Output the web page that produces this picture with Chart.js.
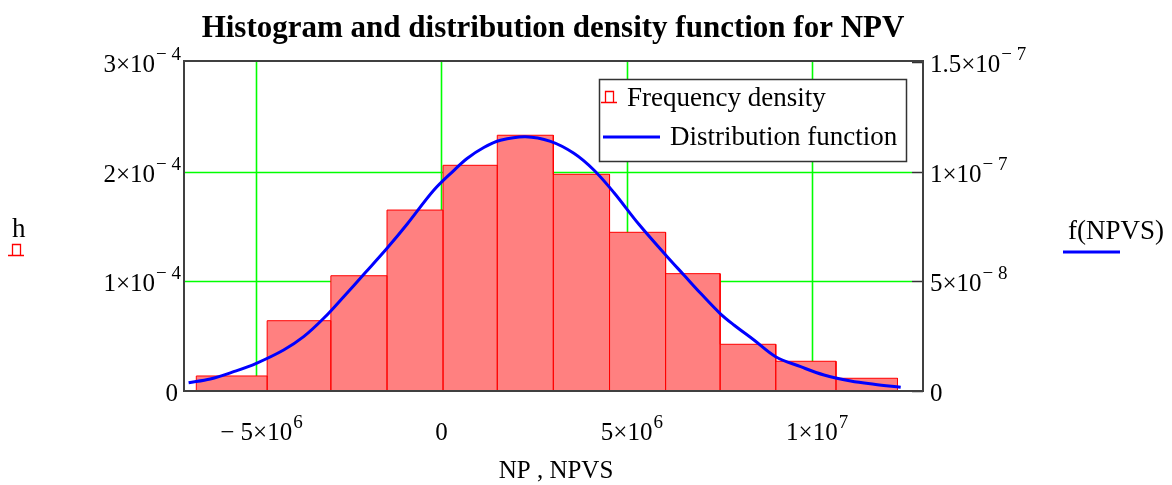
<!DOCTYPE html>
<html><head><meta charset="utf-8">
<script src="https://cdn.jsdelivr.net/npm/chart.js@4"></script>
<style>html,body{margin:0;padding:0;background:#fff;} canvas{display:block;}</style>
</head><body>
<canvas id="c" width="1172" height="485"></canvas>
<script>
// ---- data ----
const binEdges = [-6.618e6, -4.705e6, -2.985e6, -1.469e6, 0.043e6, 1.507e6, 3.020e6, 4.538e6, 6.051e6, 7.523e6, 9.025e6, 10.651e6, 12.312e6];
const freqDensity = [1.37e-5, 6.41e-5, 1.051e-4, 1.650e-4, 2.058e-4, 2.332e-4, 1.976e-4, 1.447e-4, 1.070e-4, 4.26e-5, 2.71e-5, 1.16e-5];
const curveX = [-6.826e6, -6.240e6, -5.610e6, -4.997e6, -4.260e6, -3.720e6, -3.179e6, -2.639e6, -2.053e6, -1.469e6, -0.929e6, -0.208e6, 0.332e6, 0.692e6, 1.143e6, 1.594e6, 2.269e6, 2.944e6, 3.574e6, 4.114e6, 4.654e6, 5.330e6, 6.094e6, 6.545e6, 6.996e6, 7.517e6, 7.896e6, 8.436e6, 9.022e6, 9.697e6, 10.327e6, 11.048e6, 11.677e6, 12.398e6];
const curveY = [0.378e-8, 0.547e-8, 0.880e-8, 1.263e-8, 1.869e-8, 2.476e-8, 3.314e-8, 4.300e-8, 5.400e-8, 6.506e-8, 7.600e-8, 9.150e-8, 10.050e-8, 10.600e-8, 11.100e-8, 11.430e-8, 11.594e-8, 11.380e-8, 10.837e-8, 10.075e-8, 9.050e-8, 7.600e-8, 6.123e-8, 5.288e-8, 4.454e-8, 3.542e-8, 3.009e-8, 2.325e-8, 1.564e-8, 1.108e-8, 0.729e-8, 0.456e-8, 0.305e-8, 0.169e-8];
const xTicks = [-5e6, 0, 5e6, 1e7];
const xTickLabels = [["\u2212 5\u00d710", "6"], ["0", ""], ["5\u00d710", "6"], ["1\u00d710", "7"]];
const leftTicks = [0, 1e-4, 2e-4, 3e-4];
const leftTickLabels = [["0", ""], ["1\u00d710", "\u2212 4"], ["2\u00d710", "\u2212 4"], ["3\u00d710", "\u2212 4"]];
const rightTicks = [0, 5e-8, 1e-7, 1.5e-7];
const rightTickLabels = [["0", ""], ["5\u00d710", "\u2212 8"], ["1\u00d710", "\u2212 7"], ["1.5\u00d710", "\u2212 7"]];
const titleText = "Histogram and distribution density function for NPV";
const xTitle = "NP , NPVS";
const leftTitle = "h";
const rightTitle = "f(NPVS)";
const legendLabels = ["Frequency density", "Distribution function"];

// build histogram outline points from edges/heights
const histPoints = [];
for (let i = 0; i < freqDensity.length; i++) {
  histPoints.push({x: binEdges[i], y: 0});
  histPoints.push({x: binEdges[i], y: freqDensity[i]});
  histPoints.push({x: binEdges[i + 1], y: freqDensity[i]});
  histPoints.push({x: binEdges[i + 1], y: 0});
}
const curvePoints = curveX.map((x, i) => ({x: x, y: curveY[i]}));

const SERIF = "'Liberation Serif', 'Times New Roman', serif";
const MAIN = "25px " + SERIF;
const SUP = "19px " + SERIF;

function supLabel(ctx, main, sup, x, y, align) {
  ctx.font = MAIN;
  const wm = ctx.measureText(main).width;
  ctx.font = SUP;
  const ws = sup ? ctx.measureText(sup).width : 0;
  let x0;
  if (align === 'right') x0 = x - wm - ws;
  else if (align === 'left') x0 = x;
  else x0 = x - wm / 2;
  ctx.textAlign = 'left';
  ctx.textBaseline = 'alphabetic';
  ctx.font = MAIN;
  ctx.fillText(main, x0, y);
  if (sup) { ctx.font = SUP; ctx.fillText(sup, x0 + wm + 1, y - 12); }
}

function histIcon(ctx, x, y) {
  ctx.save();
  ctx.strokeStyle = '#ff0000';
  ctx.lineWidth = 1.3;
  ctx.beginPath();
  ctx.moveTo(x, y + 0.5); ctx.lineTo(x + 16, y + 0.5);
  ctx.moveTo(x + 4.5, y); ctx.lineTo(x + 4.5, y - 10.5); ctx.lineTo(x + 12.5, y - 10.5); ctx.lineTo(x + 12.5, y);
  ctx.stroke();
  ctx.restore();
}

const gridPlugin = {
  id: 'greenGrid',
  beforeDatasetsDraw(chart) {
    const ctx = chart.ctx;
    const a = chart.chartArea;
    const sx = chart.scales.x, sy = chart.scales.y;
    ctx.save();
    ctx.strokeStyle = '#00ff00';
    ctx.lineWidth = 1.6;
    xTicks.forEach(v => {
      const px = Math.round(sx.getPixelForValue(v)) + 0.5;
      ctx.beginPath(); ctx.moveTo(px, a.top); ctx.lineTo(px, a.bottom); ctx.stroke();
    });
    leftTicks.forEach(v => {
      if (v === leftTicks[0] || v === leftTicks[leftTicks.length - 1]) return;
      const py = Math.round(sy.getPixelForValue(v)) + 0.5;
      ctx.beginPath(); ctx.moveTo(a.left, py); ctx.lineTo(a.right - 11, py); ctx.stroke();
    });
    ctx.restore();
  }
};

const decor = {
  id: 'decor',
  afterDraw(chart) {
    const ctx = chart.ctx;
    const a = chart.chartArea;
    const sx = chart.scales.x, sy = chart.scales.y, sy2 = chart.scales.y2;
    ctx.save();
    // right inward ticks
    ctx.strokeStyle = '#333';
    ctx.lineWidth = 1.5;
    rightTicks.forEach(v => {
      const py = Math.round(sy2.getPixelForValue(v)) + 0.5;
      ctx.beginPath(); ctx.moveTo(a.right - 11, py); ctx.lineTo(a.right, py); ctx.stroke();
    });
    // box
    ctx.strokeStyle = '#404040';
    ctx.lineWidth = 2;
    ctx.strokeRect(a.left, a.top - 1, a.right - a.left, a.bottom - a.top + 1);
    // legend
    ctx.fillStyle = '#fff';
    ctx.fillRect(599, 79, 308, 83);
    ctx.strokeStyle = '#333';
    ctx.lineWidth = 1.5;
    ctx.strokeRect(599.5, 79.5, 307, 82);
    histIcon(ctx, 601, 102);
    ctx.strokeStyle = '#0000ff';
    ctx.lineWidth = 3;
    ctx.beginPath(); ctx.moveTo(603, 137); ctx.lineTo(660, 137); ctx.stroke();
    ctx.fillStyle = '#000';
    ctx.font = "27px " + SERIF;
    ctx.textAlign = 'left'; ctx.textBaseline = 'alphabetic';
    ctx.fillText(legendLabels[0], 627, 106);
    ctx.fillText(legendLabels[1], 670, 145);
    // title
    ctx.font = "bold 31px " + SERIF;
    ctx.textAlign = 'center';
    ctx.fillText(titleText, 553, 37);
    // tick labels
    ctx.fillStyle = '#000';
    xTicks.forEach((v, i) => {
      supLabel(ctx, xTickLabels[i][0], xTickLabels[i][1], sx.getPixelForValue(v), 440, 'center');
    });
    leftTicks.forEach((v, i) => {
      const py = sy.getPixelForValue(v);
      supLabel(ctx, leftTickLabels[i][0], leftTickLabels[i][1], leftTickLabels[i][1] ? 180 : 178, py + 10, 'right');
    });
    rightTicks.forEach((v, i) => {
      const py = sy2.getPixelForValue(v);
      supLabel(ctx, rightTickLabels[i][0], rightTickLabels[i][1], 930, py + 10, 'left');
    });
    // axis titles
    ctx.font = MAIN;
    ctx.textAlign = 'center';
    ctx.fillText(xTitle, 556, 478);
    ctx.font = "27px " + SERIF;
    ctx.textAlign = 'left';
    ctx.fillText(leftTitle, 12, 237);
    histIcon(ctx, 8, 255);
    ctx.fillText(rightTitle, 1068, 239);
    ctx.strokeStyle = '#0000ff';
    ctx.lineWidth = 3;
    ctx.beginPath(); ctx.moveTo(1063, 252); ctx.lineTo(1120, 252); ctx.stroke();
    ctx.restore();
  }
};

new Chart(document.getElementById('c').getContext('2d'), {
  type: 'scatter',
  data: {
    datasets: [
      {label: legendLabels[1], data: curvePoints, showLine: true, borderColor: '#0000ff', borderWidth: 3,
       pointRadius: 0, yAxisID: 'y2', order: 0, fill: false, tension: 0.35},
      {label: legendLabels[0], data: histPoints, showLine: true, borderColor: '#ff0000', borderWidth: 1,
       backgroundColor: '#ff8080', fill: 'origin', pointRadius: 0, yAxisID: 'y', order: 1, tension: 0}
    ]
  },
  options: {
    responsive: false, animation: false, devicePixelRatio: 1,
    layout: {padding: {left: 184, right: 249, top: 62, bottom: 94}},
    plugins: {legend: {display: false}, title: {display: false}, tooltip: {enabled: false}},
    scales: {
      x: {type: 'linear', min: -6.95e6, max: 1.3e7,
          afterBuildTicks: s => { s.ticks = xTicks.map(v => ({value: v})); },
          ticks: {display: false}, grid: {display: false, drawTicks: false}, border: {display: false}},
      y: {type: 'linear', position: 'left', min: 0, max: 3e-4,
          afterBuildTicks: s => { s.ticks = leftTicks.map(v => ({value: v})); },
          ticks: {display: false}, grid: {display: false, drawTicks: false}, border: {display: false}},
      y2: {type: 'linear', position: 'right', min: 0, max: 1.5e-7,
          afterBuildTicks: s => { s.ticks = rightTicks.map(v => ({value: v})); },
          ticks: {display: false}, grid: {display: false, drawTicks: false}, border: {display: false}}
    }
  },
  plugins: [gridPlugin, decor]
});
</script>
</body></html>
